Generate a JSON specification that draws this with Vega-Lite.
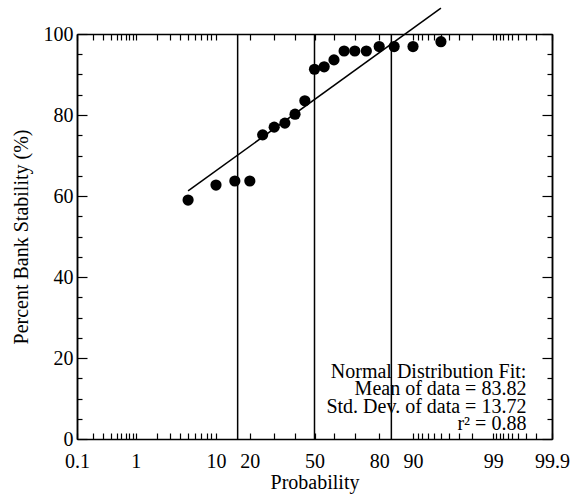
{
  "$schema": "https://vega.github.io/schema/vega-lite/v6.json",
  "width": 475,
  "height": 405,
  "autosize": {"type": "none"},
  "padding": {"left": 77, "top": 34, "right": 20, "bottom": 58},
  "background": "white",
  "config": {
    "view": {"stroke": null},
    "font": "Liberation Serif",
    "axis": {
      "labelFont": "Liberation Serif",
      "labelFontSize": 20,
      "labelColor": "black",
      "titleFont": "Liberation Serif",
      "titleFontSize": 20,
      "titleFontWeight": "normal",
      "titleColor": "black",
      "domainColor": "black",
      "domainWidth": 1.5,
      "tickColor": "black",
      "tickWidth": 1.2,
      "grid": false,
      "labelOverlap": false,
      "labelFlush": false
    }
  },
  "datasets": {
    "points": [
      {"p": 5, "z": -1.6449, "v": 59.0},
      {"p": 10, "z": -1.2816, "v": 62.7},
      {"p": 15, "z": -1.0364, "v": 63.7},
      {"p": 20, "z": -0.8416, "v": 63.7},
      {"p": 25, "z": -0.6745, "v": 75.1},
      {"p": 30, "z": -0.5244, "v": 77.0},
      {"p": 35, "z": -0.3853, "v": 78.0},
      {"p": 40, "z": -0.2533, "v": 80.2},
      {"p": 45, "z": -0.1257, "v": 83.5},
      {"p": 50, "z": 0, "v": 91.3},
      {"p": 55, "z": 0.1257, "v": 91.9},
      {"p": 60, "z": 0.2533, "v": 93.6},
      {"p": 65, "z": 0.3853, "v": 95.8},
      {"p": 70, "z": 0.5244, "v": 95.8},
      {"p": 75, "z": 0.6745, "v": 95.8},
      {"p": 80, "z": 0.8416, "v": 96.9},
      {"p": 85, "z": 1.0364, "v": 96.9},
      {"p": 90, "z": 1.2816, "v": 96.9},
      {"p": 95, "z": 1.6449, "v": 98.1}
    ],
    "fit": [
      {"p": 5, "z": -1.6449, "v": 61.25},
      {"p": 95, "z": 1.6449, "v": 106.39}
    ],
    "lines": [
      {"p": 15.87, "z": -1},
      {"p": 50, "z": 0},
      {"p": 84.13, "z": 1}
    ],
    "stats": [
      {"method": "Normal Distribution Fit", "mean": 83.82, "sd": 13.72, "r2": 0.88}
    ]
  },
  "layer": [
    {
      "data": {"name": "lines"},
      "mark": {"type": "rule", "color": "black", "strokeWidth": 1.5},
      "encoding": {
        "x": {
          "field": "z", "type": "quantitative",
          "scale": {"domain": [-3.0902, 3.0902], "nice": false, "zero": false},
          "axis": {
            "orient": "bottom",
            "title": "Probability",
            "titlePadding": 1,
            "tickSize": -6,
            "labelPadding": 18,
            "values": [-3.0902, -2.8782, -2.7478, -2.6521, -2.5758, -2.5121, -2.4573, -2.4089, -2.3656, -2.3263, -2.0537, -1.8808, -1.7507, -1.6449, -1.5548, -1.4758, -1.4051, -1.3408, -1.2816, -0.8416, -0.5244, -0.2533, 0, 0.2533, 0.5244, 0.8416, 1.2816, 1.3408, 1.4051, 1.4758, 1.5548, 1.6449, 1.7507, 1.8808, 2.0537, 2.3263, 2.3656, 2.4089, 2.4573, 2.5121, 2.5758, 2.6521, 2.7478, 2.8782, 3.0902],
            "labelExpr": "datum.value < -3 ? '0.1' : abs(datum.value + 2.3263) < 0.001 ? '1' : abs(datum.value + 1.2816) < 0.001 ? '10' : abs(datum.value + 0.8416) < 0.001 ? '20' : abs(datum.value) < 0.001 ? '50' : abs(datum.value - 0.8416) < 0.001 ? '80' : abs(datum.value - 1.2816) < 0.001 ? '90' : abs(datum.value - 2.3263) < 0.001 ? '99' : datum.value > 3 ? '99.9' : ''"
          }
        },
        "y": {
          "datum": 0, "type": "quantitative",
          "scale": {"domain": [0, 100], "nice": false, "zero": false},
          "axis": {
            "orient": "right",
            "values": [5, 10, 15, 25, 30, 35, 45, 50, 55, 65, 70, 75, 85, 90, 95],
            "tickSize": -5,
            "labels": false,
            "title": null
          }
        },
        "y2": {"datum": 100}
      }
    },
    {
      "data": {"name": "fit"},
      "mark": {"type": "line", "color": "black", "strokeWidth": 1.5},
      "encoding": {
        "x": {
          "field": "z", "type": "quantitative",
          "axis": {
            "orient": "top",
            "title": null,
            "labels": false,
            "tickSize": -6,
            "values": [-3.0902, -2.8782, -2.7478, -2.6521, -2.5758, -2.5121, -2.4573, -2.4089, -2.3656, -2.3263, -2.0537, -1.8808, -1.7507, -1.6449, -1.5548, -1.4758, -1.4051, -1.3408, -1.2816, -0.8416, -0.5244, -0.2533, 0, 0.2533, 0.5244, 0.8416, 1.2816, 1.3408, 1.4051, 1.4758, 1.5548, 1.6449, 1.7507, 1.8808, 2.0537, 2.3263, 2.3656, 2.4089, 2.4573, 2.5121, 2.5758, 2.6521, 2.7478, 2.8782, 3.0902]
          }
        },
        "y": {
          "field": "v", "type": "quantitative",
          "axis": {
            "orient": "left",
            "title": "Percent Bank Stability (%)",
            "titlePadding": 12,
            "values": [0, 20, 40, 60, 80, 100],
            "tickSize": -10,
            "labelPadding": 14
          }
        }
      }
    },
    {
      "data": {"name": "points"},
      "mark": {"type": "circle", "color": "black", "opacity": 1, "size": 125},
      "encoding": {
        "x": {"field": "z", "type": "quantitative", "axis": null},
        "y": {
          "field": "v", "type": "quantitative",
          "axis": {
            "orient": "left",
            "values": [5, 10, 15, 25, 30, 35, 45, 50, 55, 65, 70, 75, 85, 90, 95],
            "tickSize": -5,
            "labels": false,
            "title": null
          }
        }
      }
    },
    {
      "data": {"name": "stats"},
      "mark": {
        "type": "text",
        "align": "right",
        "baseline": "alphabetic",
        "font": "Liberation Serif",
        "fontSize": 20,
        "lineHeight": 17.3,
        "color": "black"
      },
      "encoding": {
        "text": {"value": ["Normal Distribution Fit:", "Mean of data = 83.82", "Std. Dev. of data = 13.72", "r² = 0.88"]},
        "x": {"datum": 2.757, "type": "quantitative", "axis": null},
        "y": {
          "datum": 15.06, "type": "quantitative",
          "axis": {
            "orient": "right",
            "values": [0, 20, 40, 60, 80, 100],
            "tickSize": -10,
            "labels": false,
            "title": null
          }
        }
      }
    }
  ],
  "resolve": {"axis": {"x": "independent", "y": "independent"}}
}
